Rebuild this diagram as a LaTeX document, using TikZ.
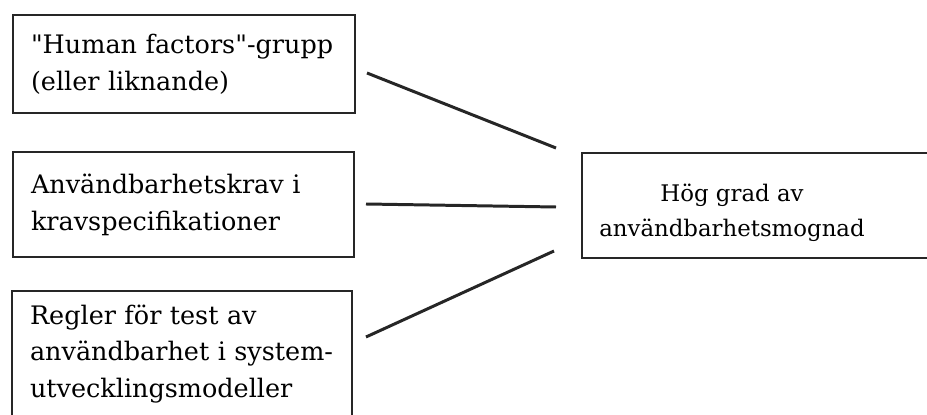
\documentclass[tikz,border=0pt]{standalone}
\usepackage{fontspec}
\setmainfont{DejaVu Serif}

\begin{document}
\begin{tikzpicture}[x=0.02cm, y=-0.02cm,
    factor/.style={draw=black!85, line width=1.2pt, align=left, inner xsep=0.36cm,
      font=\fontsize{14.5}{21}\selectfont},
    goal/.style={draw=black!85, line width=1.2pt, text height=0.5cm, text depth=0.64cm,
      font=\fontsize{13}{19.8}\selectfont},
    link/.style={draw=black!85, line width=1.7pt}]
    \useasboundingbox (0,0) rectangle (927,415);
    \node[factor, minimum width=6.84cm, minimum height=1.96cm, text width=6.12cm] (HF) at (184,64)
      {\textquotedbl Human factors\textquotedbl-grupp\\(eller liknande)};
    \node[factor, minimum width=6.82cm, minimum height=2.1cm, text width=6.1cm] (KS) at (183.5,204.5)
      {Användbarhetskrav i\\kravspecifikationer};
    \node[factor, minimum width=6.8cm, minimum height=2.52cm, text width=6.08cm] (RT) at (182,354)
      {Regler för test av\\användbarhet i system-\\utvecklingsmodeller};
    \node[goal, minimum width=6.92cm, minimum height=2.1cm] (HG) at (755,205.5)
      {\begin{tabular}[t]{@{}c@{\hspace{0.92cm}}}Hög grad av\\användbarhetsmognad\end{tabular}};
    \coordinate (HFout) at (367,73);
    \coordinate (KSout) at (366,204);
    \coordinate (RTout) at (366,337);
    \coordinate (HGin1) at (556,148);
    \coordinate (HGin2) at (556,207);
    \coordinate (HGin3) at (554,251);
    \draw[link] (HFout)--(HGin1);
    \draw[link] (KSout)--(HGin2);
    \draw[link] (RTout)--(HGin3);
\end{tikzpicture}
\end{document}
